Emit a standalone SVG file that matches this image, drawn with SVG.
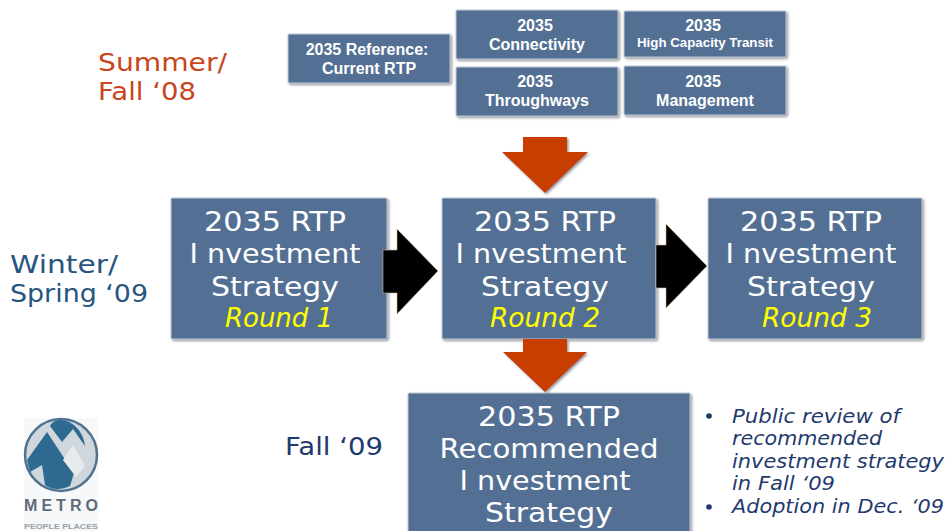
<svg xmlns="http://www.w3.org/2000/svg" width="948" height="531" viewBox="0 0 948 531">
<defs>
<style>
.box{fill:#526f94;stroke:#c3cbd6;stroke-width:1}
.sm{font:bold 16px "Liberation Sans",Arial,sans-serif;fill:#fff;text-anchor:middle}
.lg{font:27px "DejaVu Sans",sans-serif;fill:#fff;text-anchor:middle}
.rd{font:italic 26px "DejaVu Sans",sans-serif;fill:#ffff00;text-anchor:middle}
.side{font:25px "DejaVu Sans",sans-serif}
.bul{font:italic 20px "DejaVu Sans",sans-serif;fill:#1f3a6e}
.org{fill:#c83c04}
</style>
<filter id="sh" x="-10%" y="-10%" width="125%" height="125%"><feDropShadow dx="1.5" dy="1.5" stdDeviation="0.8" flood-color="#7a7f88" flood-opacity=".8"/></filter>
<filter id="blur" x="-5%" y="-5%" width="110%" height="110%"><feGaussianBlur stdDeviation="0.6"/></filter>
</defs>
<rect width="948" height="531" fill="#fff"/>
<g id="label-summer"><text class="side" fill="#c8461c" x="98" y="71" textLength="129" lengthAdjust="spacingAndGlyphs">Summer/</text><text class="side" fill="#c8461c" x="98" y="100" textLength="98" lengthAdjust="spacingAndGlyphs">Fall ‘08</text></g>
<g id="label-winter"><text class="side" fill="#28557f" x="10" y="273" textLength="108" lengthAdjust="spacingAndGlyphs">Winter/</text><text class="side" fill="#28557f" x="10" y="302" textLength="138" lengthAdjust="spacingAndGlyphs">Spring ‘09</text></g>
<g id="label-fall"><text class="side" fill="#1f3a6e" x="285" y="455" textLength="98" lengthAdjust="spacingAndGlyphs">Fall ‘09</text></g>
<g id="n-reference"><rect class="box" x="288" y="34" width="162" height="49" rx="1" filter="url(#sh)"/><text class="sm" x="367" y="55">2035 Reference:</text><text class="sm" x="369" y="74">Current RTP</text></g>
<g id="n-connectivity"><rect class="box" x="456" y="10" width="162" height="49" rx="1" filter="url(#sh)"/><text class="sm" x="535" y="31">2035</text><text class="sm" x="537" y="50">Connectivity</text></g>
<g id="n-hct"><rect class="box" x="624" y="11" width="162" height="46" rx="1" filter="url(#sh)"/><text class="sm" x="703" y="31">2035</text><text class="sm" style="font-size:13.3px" x="705" y="47">High Capacity Transit</text></g>
<g id="n-throughways"><rect class="box" x="456" y="67" width="162" height="49" rx="1" filter="url(#sh)"/><text class="sm" x="535" y="87">2035</text><text class="sm" x="537" y="106">Throughways</text></g>
<g id="n-management"><rect class="box" x="624" y="66" width="162" height="49" rx="1" filter="url(#sh)"/><text class="sm" x="703" y="87">2035</text><text class="sm" x="705" y="106">Management</text></g>
<g id="n-round1"><rect class="box" x="171" y="198" width="216" height="141" rx="1" filter="url(#sh)"/><text class="lg" x="275" y="231" textLength="142" lengthAdjust="spacingAndGlyphs">2035 RTP</text><text class="lg" x="275" y="263" textLength="171" lengthAdjust="spacingAndGlyphs">I nvestment</text><text class="lg" x="275" y="296" textLength="128" lengthAdjust="spacingAndGlyphs">Strategy</text><text class="rd" x="279" y="327" textLength="108" lengthAdjust="spacingAndGlyphs">Round 1</text></g>
<g id="n-round2"><rect class="box" x="442" y="198" width="214" height="141" rx="1" filter="url(#sh)"/><text class="lg" x="545" y="231" textLength="142" lengthAdjust="spacingAndGlyphs">2035 RTP</text><text class="lg" x="541" y="263" textLength="171" lengthAdjust="spacingAndGlyphs">I nvestment</text><text class="lg" x="545" y="296" textLength="128" lengthAdjust="spacingAndGlyphs">Strategy</text><text class="rd" x="545" y="327" textLength="110" lengthAdjust="spacingAndGlyphs">Round 2</text></g>
<g id="n-round3"><rect class="box" x="708" y="198" width="214" height="141" rx="1" filter="url(#sh)"/><text class="lg" x="811" y="231" textLength="142" lengthAdjust="spacingAndGlyphs">2035 RTP</text><text class="lg" x="811" y="263" textLength="171" lengthAdjust="spacingAndGlyphs">I nvestment</text><text class="lg" x="811" y="296" textLength="128" lengthAdjust="spacingAndGlyphs">Strategy</text><text class="rd" x="817" y="327" textLength="110" lengthAdjust="spacingAndGlyphs">Round 3</text></g>
<g id="n-recommended"><rect class="box" x="408" y="393" width="282" height="140" rx="1" filter="url(#sh)"/><text class="lg" x="549" y="426" textLength="142" lengthAdjust="spacingAndGlyphs">2035 RTP</text><text class="lg" x="549" y="458" textLength="219" lengthAdjust="spacingAndGlyphs">Recommended</text><text class="lg" x="545" y="490" textLength="171" lengthAdjust="spacingAndGlyphs">I nvestment</text><text class="lg" x="549" y="522" textLength="128" lengthAdjust="spacingAndGlyphs">Strategy</text></g>
<g id="connectors">
<path id="arrow-top" class="org" filter="url(#sh)" d="M523 137H567V152H588L545 193 502 152H523Z"/>
<path id="arrow-bottom" class="org" filter="url(#sh)" d="M523 339H567V352H587L545 392 503 352H523Z"/>
<path id="arrow-r1" fill="#000" stroke="#d8b48c" stroke-width=".6" d="M383 250H397V229L438 271 397 314V293H383Z"/>
<path id="arrow-r2" fill="#000" stroke="#d8b48c" stroke-width=".6" d="M656 245H666V224L707 266 666 308V288H656Z"/>
</g>
<g id="notes">
<circle cx="709" cy="416" r="2.8" fill="#1f3a6e"/><circle cx="709" cy="507" r="2.8" fill="#1f3a6e"/>
<text class="bul" x="732" y="423" textLength="168" lengthAdjust="spacingAndGlyphs">Public review of</text>
<text class="bul" x="732" y="445" textLength="150" lengthAdjust="spacingAndGlyphs">recommended</text>
<text class="bul" x="732" y="468" textLength="212" lengthAdjust="spacingAndGlyphs">investment strategy</text>
<text class="bul" x="732" y="490" textLength="103" lengthAdjust="spacingAndGlyphs">in Fall ‘09</text>
<text class="bul" x="732" y="513" textLength="212" lengthAdjust="spacingAndGlyphs">Adoption in Dec. ‘09</text>
</g>
<g id="logo">
<rect x="24" y="418" width="74" height="113" fill="#f7f8fa"/>
<g filter="url(#blur)">
<circle cx="61" cy="455" r="36" fill="#cfd6dc" stroke="#4f7390" stroke-width="2.5"/>
<path fill="#2f6a90" d="M50 426 62 442 73 429 85 446C84 432 72 420 61 420 56 420 52 422 50 426Z"/>
<path fill="#2f6a90" d="M27 460 47 432 74 473 70 486C60 491 50 489 45 485L42 465 30 472Z"/>
<path fill="#e8ebee" d="M63 460 73 445 85 466 76 477Z"/>
</g>
<text x="24" y="511" font-family="'Liberation Sans',sans-serif" font-weight="bold" font-size="16" fill="#5f6b77" textLength="74">METRO</text>
<text x="24" y="529" font-family="'Liberation Sans',sans-serif" font-weight="bold" font-size="7" fill="#98a0a8" textLength="74" lengthAdjust="spacingAndGlyphs">PEOPLE PLACES</text>
</g>
</svg>
